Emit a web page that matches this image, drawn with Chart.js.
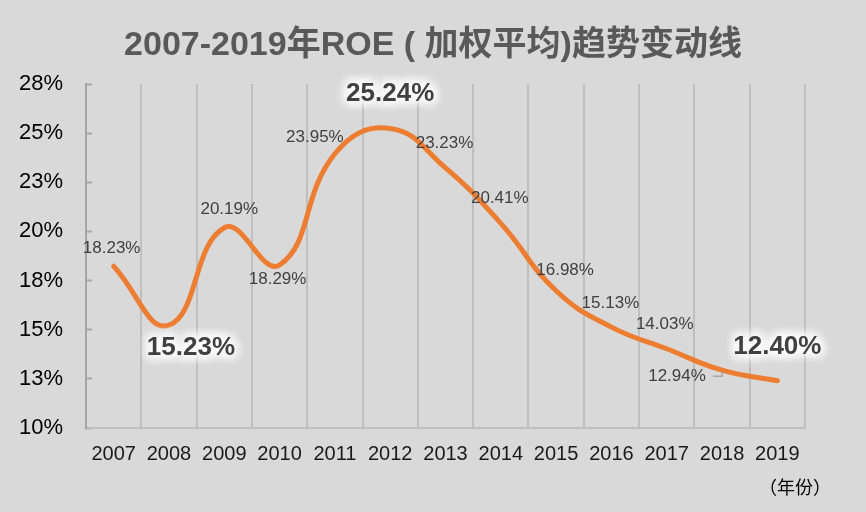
<!DOCTYPE html>
<html>
<head>
<meta charset="utf-8">
<script src="https://cdn.jsdelivr.net/npm/chart.js@4"></script>
<style>
  html, body { margin: 0; padding: 0; background: #d9d9d9; }
  #wrap { width: 866px; height: 512px; }
</style>
</head>
<body>
<div id="wrap"><canvas id="roe" width="866" height="512"></canvas></div>
<script>
const years = ['2007', '2008', '2009', '2010', '2011', '2012', '2013',
  '2014', '2015', '2016', '2017', '2018', '2019'];
const roe = [18.23, 15.23, 20.19, 18.29, 23.95, 25.24, 23.23,
  20.41, 16.98, 15.13, 14.03, 12.94, 12.40];
const yTicks = { min: 10, max: 27.5, step: 2.5 };
const chartTitle = '2007-2019年ROE ( 加权平均)趋势变动线';
const unitLabel = '（年份）';

// label placement relative to each point (style only)
const labelOffsets = [[-2, -18], [22, 23], [5, -18], [-2, 14], [-20, -16], [0, -35], [-1, -25],
  [-1, -25], [9, -20], [-1, -24], [-2, -24], [-45, 6], [0, -34]];
const bigLabels = [1, 5, 12];

const labelPlugin = {
  id: 'roeLabels',
  afterDatasetsDraw(chart) {
    const ctx = chart.ctx;
    const pts = chart.getDatasetMeta(0).data;
    ctx.save();
    ctx.textAlign = 'center';
    ctx.textBaseline = 'middle';

    // title, centred on the whole picture
    ctx.font = 'bold 34px "Liberation Sans", "Noto Sans CJK SC", sans-serif';
    ctx.fillStyle = '#595959';
    ctx.fillText(chartTitle, 433, 46);

    // leader line for 2018
    const p11 = pts[11];
    ctx.strokeStyle = '#a6a6a6';
    ctx.lineWidth = 1.5;
    ctx.beginPath();
    ctx.moveTo(p11.x - 9, p11.y + 6);
    ctx.lineTo(p11.x, p11.y + 6);
    ctx.lineTo(p11.x, p11.y + 1);
    ctx.stroke();

    roe.forEach((v, i) => {
      const p = pts[i];
      const x = p.x + labelOffsets[i][0];
      const y = p.y + labelOffsets[i][1];
      const txt = v.toFixed(2) + '%';
      if (bigLabels.includes(i)) {
        ctx.font = 'bold 26px "Liberation Sans", Arial, sans-serif';
        ctx.fillStyle = '#ffffff';
        ctx.shadowColor = 'rgba(255,255,255,1)';
        ctx.shadowBlur = 12;
        for (let k = 0; k < 6; k++) ctx.fillText(txt, x, y);
        ctx.shadowBlur = 0;
        ctx.fillStyle = '#404040';
        ctx.fillText(txt, x, y);
      } else {
        ctx.font = '17px "Liberation Sans", Arial, sans-serif';
        ctx.fillStyle = '#404040';
        ctx.fillText(txt, x, y);
      }
    });

    // unit label under the x axis
    ctx.font = '18px "Noto Sans CJK SC", sans-serif';
    ctx.fillStyle = '#000000';
    ctx.fillText(unitLabel, 795, 487);
    ctx.restore();
  }
};

new Chart(document.getElementById('roe').getContext('2d'), {
  type: 'line',
  data: {
    labels: years,
    datasets: [{
      label: 'ROE',
      data: roe,
      borderColor: '#ed7d31',
      borderWidth: 5,
      borderCapStyle: 'round',
      tension: 0.45,
      pointRadius: 0,
      fill: false
    }]
  },
  options: {
    responsive: false,
    animation: false,
    layout: { padding: { left: 0, right: 61, top: 84, bottom: 0 } },
    scales: {
      x: {
        offset: true,
        grid: { offset: true, drawTicks: false, color: '#bfbfbf', lineWidth: 2 },
        border: { display: true, color: '#bfbfbf', width: 2 },
        ticks: {
          color: '#1a1a1a',
          padding: 14,
          maxRotation: 0,
          font: { family: '"Liberation Sans", Arial, sans-serif', size: 20 }
        },
        afterFit(scale) { scale.height = 84; }
      },
      y: {
        min: yTicks.min,
        max: yTicks.max,
        grid: { drawOnChartArea: false, drawTicks: true, tickLength: -6, tickColor: '#a6a6a6', tickWidth: 2 },
        border: { display: true, color: '#a6a6a6', width: 2 },
        ticks: {
          stepSize: yTicks.step,
          color: '#000000',
          padding: 29,
          font: { family: '"Liberation Sans", Arial, sans-serif', size: 22 },
          callback: (v) => Math.round(v) + '%'
        },
        afterFit(scale) { scale.width = 86; }
      }
    },
    plugins: {
      legend: { display: false },
      tooltip: { enabled: false },
      title: { display: false }
    }
  },
  plugins: [labelPlugin]
});
</script>
</body>
</html>
